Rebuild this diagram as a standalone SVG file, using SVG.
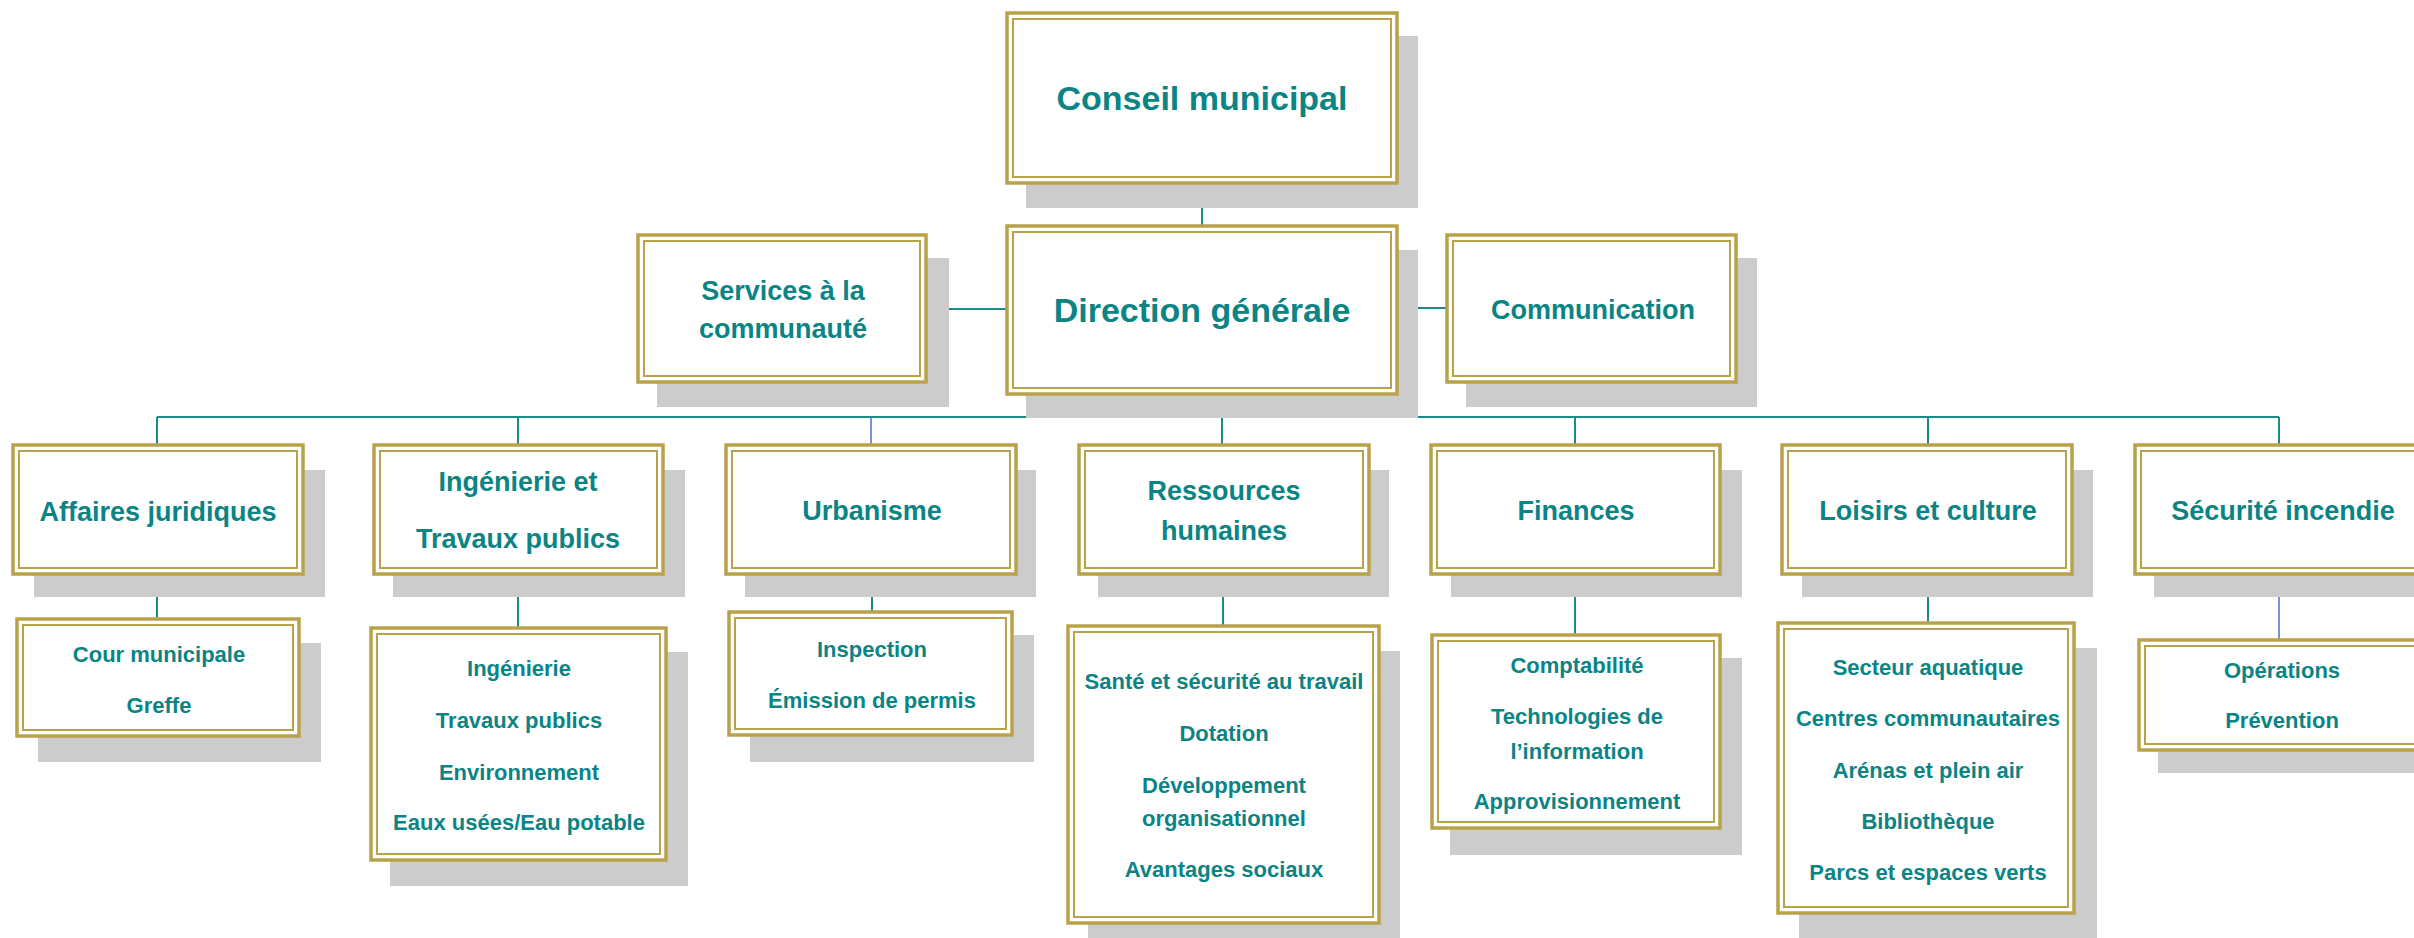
<svg xmlns="http://www.w3.org/2000/svg" width="2414" height="938" viewBox="0 0 2414 938">
<style>
.sh{fill:#cccccc}
.bx{fill:#ffffff;stroke:#b9a24a;stroke-width:3.5}
.in{fill:none;stroke:#b9a24a;stroke-width:2}
.t{font-family:"Liberation Sans",Arial,sans-serif;font-weight:bold;fill:#0a8484;text-anchor:middle}
.t1{font-size:34px}
.t2{font-size:27px}
.t3{font-size:22px}
.c{stroke:#1a8a8a;stroke-width:2;fill:none}
.cb{stroke:#4a72c4;stroke-width:1.5;fill:none}
</style>
<rect width="2414" height="938" fill="#ffffff"/>

<g id="connectors">
<path class="c" d="M1202 183V226"/>
<path class="c" d="M926 309H1007"/>
<path class="c" d="M1397 308H1447"/>
<path class="c" d="M1202 394V417"/>
<path class="c" d="M157 417H2279"/>
<path class="c" d="M157 417V445"/>
<path class="c" d="M518 417V445"/>
<path class="cb" d="M871 417V445"/>
<path class="c" d="M1222 417V445"/>
<path class="c" d="M1575 417V445"/>
<path class="c" d="M1928 417V445"/>
<path class="c" d="M2279 417V445"/>
<path class="c" d="M157 574V619"/>
<path class="c" d="M518 574V628"/>
<path class="c" d="M872 574V612"/>
<path class="c" d="M1223 574V626"/>
<path class="c" d="M1575 574V635"/>
<path class="c" d="M1928 574V623"/>
<path class="cb" d="M2279 574V640"/>
</g>

<g id="conseil">
<rect class="sh" x="1026" y="36" width="392" height="172"/>
<rect class="bx" x="1007" y="13" width="390" height="170"/>
<rect class="in" x="1013" y="19" width="378" height="158"/>
<text class="t t1" x="1202" y="110">Conseil municipal</text>
</g>

<g id="direction">
<rect class="sh" x="1026" y="250" width="392" height="168"/>
<rect class="bx" x="1007" y="226" width="390" height="168"/>
<rect class="in" x="1013" y="232" width="378" height="156"/>
<text class="t t1" x="1202" y="322">Direction générale</text>
</g>

<g id="services">
<rect class="sh" x="657" y="258" width="292" height="149"/>
<rect class="bx" x="638" y="235" width="288" height="147"/>
<rect class="in" x="644" y="241" width="276" height="135"/>
<text class="t t2" x="783" y="300">Services à la</text>
<text class="t t2" x="783" y="338">communauté</text>
</g>

<g id="communication">
<rect class="sh" x="1466" y="258" width="291" height="149"/>
<rect class="bx" x="1447" y="235" width="289" height="147"/>
<rect class="in" x="1453" y="241" width="277" height="135"/>
<text class="t t2" x="1593" y="319">Communication</text>
</g>

<g id="affaires">
<rect class="sh" x="34" y="470" width="291" height="127"/>
<rect class="bx" x="13" y="445" width="290" height="129"/>
<rect class="in" x="19" y="451" width="278" height="117"/>
<text class="t t2" x="158" y="521">Affaires juridiques</text>
</g>

<g id="ingenierie">
<rect class="sh" x="393" y="470" width="292" height="127"/>
<rect class="bx" x="374" y="445" width="289" height="129"/>
<rect class="in" x="380" y="451" width="277" height="117"/>
<text class="t t2" x="518" y="491">Ingénierie et</text>
<text class="t t2" x="518" y="548">Travaux publics</text>
</g>

<g id="urbanisme">
<rect class="sh" x="745" y="470" width="291" height="127"/>
<rect class="bx" x="726" y="445" width="290" height="129"/>
<rect class="in" x="732" y="451" width="278" height="117"/>
<text class="t t2" x="872" y="520">Urbanisme</text>
</g>

<g id="rh">
<rect class="sh" x="1098" y="470" width="291" height="127"/>
<rect class="bx" x="1079" y="445" width="290" height="129"/>
<rect class="in" x="1085" y="451" width="278" height="117"/>
<text class="t t2" x="1224" y="500">Ressources</text>
<text class="t t2" x="1224" y="540">humaines</text>
</g>

<g id="finances">
<rect class="sh" x="1451" y="470" width="291" height="127"/>
<rect class="bx" x="1431" y="445" width="289" height="129"/>
<rect class="in" x="1437" y="451" width="277" height="117"/>
<text class="t t2" x="1576" y="520">Finances</text>
</g>

<g id="loisirs">
<rect class="sh" x="1802" y="470" width="291" height="127"/>
<rect class="bx" x="1782" y="445" width="290" height="129"/>
<rect class="in" x="1788" y="451" width="278" height="117"/>
<text class="t t2" x="1928" y="520">Loisirs et culture</text>
</g>

<g id="securite">
<rect class="sh" x="2154" y="470" width="291" height="127"/>
<rect class="bx" x="2135" y="445" width="290" height="129"/>
<rect class="in" x="2141" y="451" width="278" height="117"/>
<text class="t t2" x="2283" y="520">Sécurité incendie</text>
</g>

<g id="cour">
<rect class="sh" x="38" y="643" width="283" height="119"/>
<rect class="bx" x="17" y="619" width="282" height="117"/>
<rect class="in" x="23" y="625" width="270" height="105"/>
<text class="t t3" x="159" y="662">Cour municipale</text>
<text class="t t3" x="159" y="713">Greffe</text>
</g>

<g id="ing-list">
<rect class="sh" x="390" y="652" width="298" height="234"/>
<rect class="bx" x="371" y="628" width="295" height="232"/>
<rect class="in" x="377" y="634" width="283" height="220"/>
<text class="t t3" x="519" y="676">Ingénierie</text>
<text class="t t3" x="519" y="728">Travaux publics</text>
<text class="t t3" x="519" y="780">Environnement</text>
<text class="t t3" x="519" y="830">Eaux usées/Eau potable</text>
</g>

<g id="urb-list">
<rect class="sh" x="750" y="635" width="284" height="127"/>
<rect class="bx" x="729" y="612" width="283" height="123"/>
<rect class="in" x="735" y="618" width="271" height="111"/>
<text class="t t3" x="872" y="657">Inspection</text>
<text class="t t3" x="872" y="708">Émission de permis</text>
</g>

<g id="rh-list">
<rect class="sh" x="1088" y="651" width="312" height="300"/>
<rect class="bx" x="1068" y="626" width="311" height="297"/>
<rect class="in" x="1074" y="632" width="299" height="285"/>
<text class="t t3" x="1224" y="689">Santé et sécurité au travail</text>
<text class="t t3" x="1224" y="741">Dotation</text>
<text class="t t3" x="1224" y="793">Développement</text>
<text class="t t3" x="1224" y="826">organisationnel</text>
<text class="t t3" x="1224" y="877">Avantages sociaux</text>
</g>

<g id="fin-list">
<rect class="sh" x="1450" y="658" width="292" height="197"/>
<rect class="bx" x="1432" y="635" width="288" height="193"/>
<rect class="in" x="1438" y="641" width="276" height="181"/>
<text class="t t3" x="1577" y="673">Comptabilité</text>
<text class="t t3" x="1577" y="724">Technologies de</text>
<text class="t t3" x="1577" y="759">l’information</text>
<text class="t t3" x="1577" y="809">Approvisionnement</text>
</g>

<g id="loisirs-list">
<rect class="sh" x="1799" y="648" width="298" height="300"/>
<rect class="bx" x="1778" y="623" width="296" height="290"/>
<rect class="in" x="1784" y="629" width="284" height="278"/>
<text class="t t3" x="1928" y="675">Secteur aquatique</text>
<text class="t t3" x="1928" y="726">Centres communautaires</text>
<text class="t t3" x="1928" y="778">Arénas et plein air</text>
<text class="t t3" x="1928" y="829">Bibliothèque</text>
<text class="t t3" x="1928" y="880">Parcs et espaces verts</text>
</g>

<g id="securite-list">
<rect class="sh" x="2158" y="663" width="291" height="110"/>
<rect class="bx" x="2139" y="640" width="290" height="110"/>
<rect class="in" x="2145" y="646" width="278" height="98"/>
<text class="t t3" x="2282" y="678">Opérations</text>
<text class="t t3" x="2282" y="728">Prévention</text>
</g>
</svg>
